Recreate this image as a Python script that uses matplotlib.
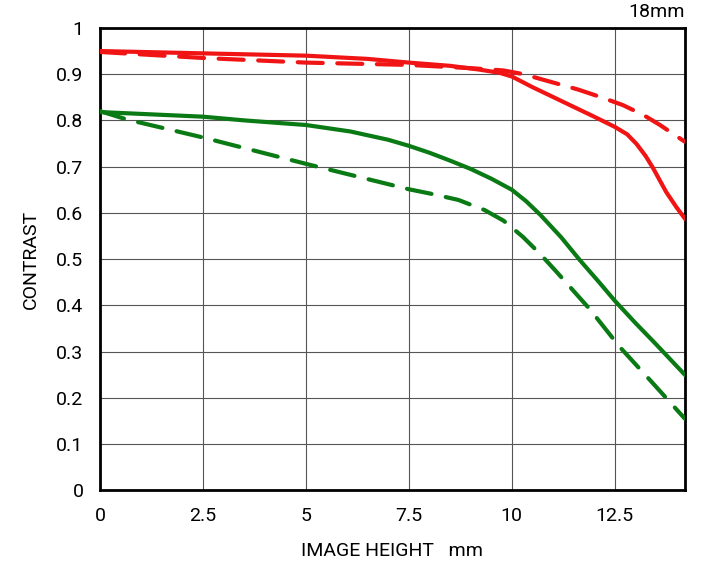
import matplotlib
matplotlib.use('Agg')
import matplotlib.pyplot as plt

# MTF curves (image height in mm -> contrast)
red_solid_x = [0, 2.5, 5, 6.5, 7.5, 8.5, 9.2, 9.7, 10, 10.5, 11.25, 12, 12.5, 12.8, 13.03, 13.25, 13.43, 13.75, 14.0, 14.2]
red_solid_y = [0.95, 0.945, 0.94, 0.933, 0.925, 0.918, 0.91, 0.903, 0.895, 0.872, 0.84, 0.808, 0.786, 0.77, 0.749, 0.723, 0.697, 0.645, 0.612, 0.588]

red_dash_x = [0, 2.5, 5, 7.5, 9, 9.8, 10.28, 11, 11.6, 12.14, 12.7, 13.19, 13.6, 14.2]
red_dash_y = [0.948, 0.935, 0.925, 0.92, 0.913, 0.908, 0.9, 0.882, 0.867, 0.851, 0.833, 0.812, 0.79, 0.754]

green_solid_x = [0, 2.5, 3.5, 5, 6.08, 7, 7.5, 8, 8.5, 9, 9.5, 10, 10.35, 10.7, 11.2, 11.65, 12.1, 12.5, 13, 13.5, 14.2]
green_solid_y = [0.818, 0.808, 0.8, 0.79, 0.776, 0.758, 0.745, 0.73, 0.713, 0.695, 0.674, 0.65, 0.625, 0.595, 0.547, 0.498, 0.452, 0.41, 0.362, 0.316, 0.25]

green_dash_x = [0, 0.65, 2.5, 5, 7.5, 8, 8.7, 9.34, 9.8, 10.27, 10.7, 11.09, 11.89, 12.62, 13.4, 14.2]
green_dash_y = [0.82, 0.802, 0.763, 0.706, 0.651, 0.642, 0.628, 0.606, 0.583, 0.548, 0.51, 0.472, 0.392, 0.31, 0.234, 0.155]

x_ticks = [0, 2.5, 5, 7.5, 10, 12.5]
x_labels = ['0', '2.5', '5', '7.5', '10', '12.5']
y_ticks = [0, 0.1, 0.2, 0.3, 0.4, 0.5, 0.6, 0.7, 0.8, 0.9, 1]
y_labels = ['0', '0.1', '0.2', '0.3', '0.4', '0.5', '0.6', '0.7', '0.8', '0.9', '1']

plt.rcParams['font.family'] = ['Roboto', 'DejaVu Sans']

fig = plt.figure(figsize=(7.2, 5.7), dpi=100)
ax = fig.add_axes([0.139, 0.140, 0.812, 0.811])

red = '#f01414'
green = '#0a7a14'

ax.plot(red_solid_x, red_solid_y, color=red, lw=3, solid_joinstyle='round', zorder=3)
ax.plot(red_dash_x, red_dash_y, color=red, lw=3, dashes=(6, 3.5), dash_capstyle='round', zorder=3)
ax.plot(green_solid_x, green_solid_y, color=green, lw=3, solid_joinstyle='round', zorder=3)
ax.plot(green_dash_x, green_dash_y, color=green, lw=3, dashes=(6, 3.5), dash_capstyle='round', zorder=3)

ax.set_xlim(0, 14.2)
ax.set_ylim(0, 1)
ax.set_xticks(x_ticks)
ax.set_xticklabels(x_labels)
ax.set_yticks(y_ticks)
ax.set_yticklabels(y_labels)
ax.tick_params(length=0, labelsize=14, pad=12)
ax.grid(True, color='#555555', lw=0.8)
ax.set_axisbelow(True)
for s in ax.spines.values():
	s.set_linewidth(2)
	s.set_color('black')

ax.set_xlabel('IMAGE HEIGHT   mm', fontsize=14, labelpad=12)
ax.set_ylabel('CONTRAST', fontsize=14, labelpad=12)
ax.text(1.0, 1.015, '18mm', transform=ax.transAxes, ha='right', va='bottom', fontsize=14)

fig.savefig('out.png')
